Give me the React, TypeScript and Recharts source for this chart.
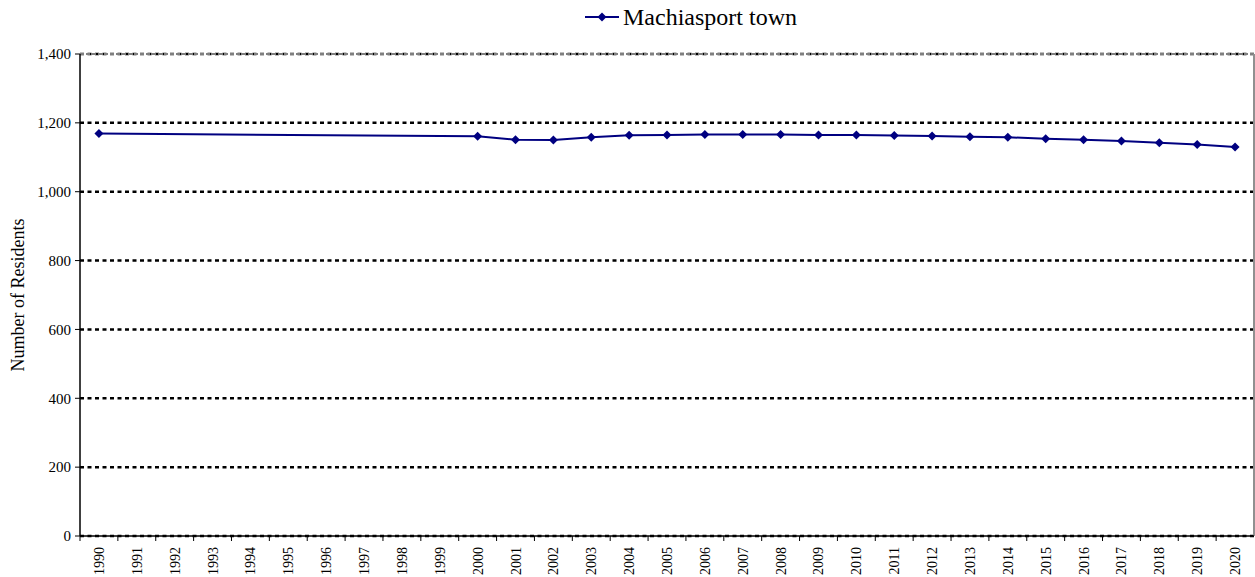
import React from "react";
import { LineChart, Line, XAxis, YAxis, CartesianGrid, ReferenceLine } from "recharts";

const YEARS = [
  "1990", "1991", "1992", "1993", "1994", "1995", "1996", "1997", "1998", "1999",
  "2000", "2001", "2002", "2003", "2004", "2005", "2006", "2007", "2008", "2009",
  "2010", "2011", "2012", "2013", "2014", "2015", "2016", "2017", "2018", "2019", "2020",
];
const RESIDENTS: (number | null)[] = [
  1169, null, null, null, null, null, null, null, null, null,
  1161, 1151, 1150, 1158, 1164, 1165, 1166, 1166, 1166, 1165,
  1165, 1163, 1162, 1160, 1158, 1154, 1151, 1147, 1142, 1137, 1130,
];
const Y_TICKS = [0, 200, 400, 600, 800, 1000, 1200, 1400];
const SERIES_NAME = "Machiasport town";

const W = 1255;
const H = 577;
const MARGIN = { top: 54, right: 1, left: 30, bottom: 0 };
const Y_AXIS_W = 50;
const X_AXIS_H = 41;
const PLOT_W = W - MARGIN.left - MARGIN.right - Y_AXIS_W;
const BAND = PLOT_W / YEARS.length;
const NAVY = "#000080";
const FONT = "'Liberation Serif', 'Times New Roman', serif";

const rows = YEARS.map((year, i) => ({ year, residents: RESIDENTS[i] }));

function YearTick({ x, y, payload }: any) {
  return (
    <g>
      <line x1={x - BAND / 2} x2={x - BAND / 2} y1={y - 8} y2={y - 3} stroke="#000" />
      <text
        transform={`translate(${x + 5},${y + 3}) rotate(-90)`}
        textAnchor="end"
        fontSize={14}
        fontFamily={FONT}
        fill="#000"
      >
        {payload.value}
      </text>
    </g>
  );
}

function Diamond({ cx, cy }: any) {
  if (cx == null || cy == null) return null;
  return <path d={`M${cx},${cy - 4.5}L${cx + 4.5},${cy}L${cx},${cy + 4.5}L${cx - 4.5},${cy}Z`} fill={NAVY} />;
}

function LegendBox() {
  return (
    <div
      style={{
        position: "absolute",
        left: 585,
        top: 3,
        height: 28,
        display: "flex",
        alignItems: "center",
        fontFamily: FONT,
        fontSize: 24,
        color: "#000",
        whiteSpace: "nowrap",
      }}
    >
      <svg width={34} height={12} style={{ marginRight: 4 }}>
        <line x1={0} x2={34} y1={6} y2={6} stroke={NAVY} strokeWidth={2} />
        <path d="M17,1.5L21.5,6L17,10.5L12.5,6Z" fill={NAVY} />
      </svg>
      <span>{SERIES_NAME}</span>
    </div>
  );
}

export default function App() {
  return (
    <div style={{ position: "absolute", left: 0, top: 0, width: W, height: H, background: "#fff" }}>
      <LineChart width={W} height={H} data={rows} margin={MARGIN}>
        <CartesianGrid vertical={false} stroke="#000" strokeWidth={2.5} strokeDasharray="4 3.5" />
        <XAxis
          dataKey="year"
          scale="band"
          interval={0}
          height={X_AXIS_H}
          tick={<YearTick />}
          tickLine={false}
          axisLine={{ stroke: "#000", strokeWidth: 1.5 }}
        />
        <YAxis
          width={Y_AXIS_W}
          domain={[0, 1400]}
          ticks={Y_TICKS}
          interval={0}
          tickSize={5}
          tickMargin={4}
          tickFormatter={(v: number) => v.toLocaleString("en-US")}
          tick={{ fontSize: 15, fontFamily: FONT, fill: "#000" }}
          axisLine={{ stroke: "#000", strokeWidth: 1.5 }}
          tickLine={{ stroke: "#000" }}
          label={{
            value: "Number of Residents",
            angle: -90,
            position: "insideLeft",
            offset: -12,
            style: { fontSize: 18, fontFamily: FONT, fill: "#000", textAnchor: "middle" },
          }}
        />
        <ReferenceLine y={1400} stroke="#7f7f7f" strokeWidth={2} strokeDasharray="4 2" />
        <ReferenceLine x="2020" stroke="#909090" strokeWidth={2} position="end" />
        <Line
          type="linear"
          dataKey="residents"
          name={SERIES_NAME}
          stroke={NAVY}
          strokeWidth={2}
          dot={<Diamond />}
          activeDot={false}
          connectNulls
          isAnimationActive={false}
        />
      </LineChart>
      <LegendBox />
    </div>
  );
}
